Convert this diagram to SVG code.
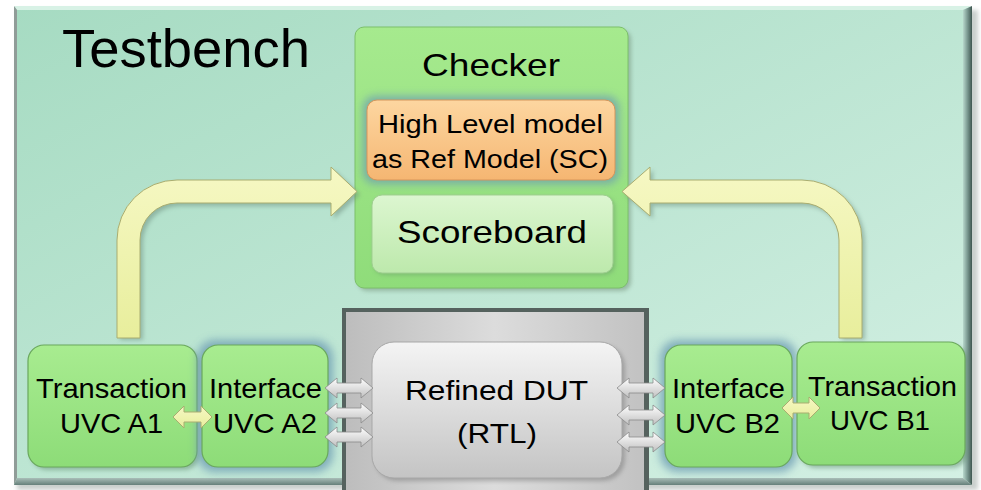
<svg xmlns="http://www.w3.org/2000/svg" width="981" height="490" viewBox="0 0 981 490">
<defs>
<style>
.t{font-family:"Liberation Sans",Arial,sans-serif;fill:#000;text-anchor:middle}
.uvc{fill:url(#gUvc);stroke:#6aa85c;stroke-width:1.2}
.ya{fill:url(#gYel);stroke:#a9ad70;stroke-width:1}
.ga{fill:url(#gGa);stroke:#8a8a8a;stroke-width:0.8}
</style>
<linearGradient id="gBg" x1="0" y1="0" x2="1" y2="1">
<stop offset="0" stop-color="#a6dbc2"/><stop offset="1" stop-color="#d4f0e4"/>
</linearGradient>
<linearGradient id="gR" x1="0" y1="0" x2="1" y2="0">
<stop offset="0" stop-color="#b8d8cc"/><stop offset="0.5" stop-color="#7a9890"/><stop offset="1" stop-color="#3e5650"/>
</linearGradient>
<linearGradient id="gB" x1="0" y1="0" x2="0" y2="1">
<stop offset="0" stop-color="#a9beb8"/><stop offset="1" stop-color="#66807a"/>
</linearGradient>
<linearGradient id="gChk" x1="0" y1="0" x2="0" y2="1">
<stop offset="0" stop-color="#a6ea8e"/><stop offset="1" stop-color="#8fdc7a"/>
</linearGradient>
<linearGradient id="gUvc" x1="0" y1="0" x2="0" y2="1">
<stop offset="0" stop-color="#a8ec90"/><stop offset="1" stop-color="#8ddc78"/>
</linearGradient>
<linearGradient id="gOr" x1="0" y1="0" x2="0" y2="1">
<stop offset="0" stop-color="#fdd6a0"/><stop offset="1" stop-color="#f5b672"/>
</linearGradient>
<linearGradient id="gSb" x1="0" y1="0" x2="0" y2="1">
<stop offset="0" stop-color="#dcf6d0"/><stop offset="1" stop-color="#bde9ac"/>
</linearGradient>
<linearGradient id="gDut" x1="0" y1="0" x2="0" y2="1">
<stop offset="0" stop-color="#f4f4f4"/><stop offset="1" stop-color="#c4c4c4"/>
</linearGradient>
<linearGradient id="gGray" x1="0" y1="0" x2="1" y2="0">
<stop offset="0" stop-color="#bdbdbd"/><stop offset="0.5" stop-color="#dcdcdc"/><stop offset="1" stop-color="#c2c2c2"/>
</linearGradient>
<linearGradient id="gYel" x1="0" y1="0" x2="0" y2="1">
<stop offset="0" stop-color="#f6f8c4"/><stop offset="1" stop-color="#e8ee9c"/>
</linearGradient>
<linearGradient id="gGa" x1="0" y1="0" x2="0" y2="1">
<stop offset="0" stop-color="#ffffff"/><stop offset="1" stop-color="#c0c0c0"/>
</linearGradient>
<filter id="glow" x="-20%" y="-20%" width="140%" height="140%"><feGaussianBlur stdDeviation="4"/></filter>
<filter id="sh" x="-10%" y="-10%" width="130%" height="130%"><feGaussianBlur stdDeviation="2"/></filter>
<path id="dblG" d="M0,0 L12,-10 L12,-5 L36,-5 L36,-10 L48,0 L36,10 L36,5 L12,5 L12,10 Z"/>
</defs>

<!-- Testbench frame -->
<g id="testbench">
<rect x="17" y="10" width="961" height="480" fill="#8a9892" opacity="0.45" filter="url(#sh)"/>
<rect x="14" y="7" width="958" height="478" fill="url(#gBg)"/>
<polygon points="14,6 972,6 963,10 17,10" fill="#d8f2e6"/>
<polygon points="14,6 17,10 17,478 14,485" fill="#909c98"/>
<polygon points="972,6 972,485 963,478 963,10" fill="url(#gR)"/>
<polygon points="14,485 972,485 963,478 17,478" fill="url(#gB)"/>
<text class="t" x="186" y="67" font-size="53" textLength="248" lengthAdjust="spacingAndGlyphs">Testbench</text>
</g>

<!-- DUT area -->
<g id="dut-area">
<rect x="342" y="308" width="307" height="184" fill="#55625e"/>
<rect x="346" y="312" width="298" height="180" fill="url(#gGray)"/>
</g>

<!-- Checker -->
<g id="checker">
<rect x="358" y="30" width="273" height="261" rx="9" fill="#7a9a82" opacity="0.6" filter="url(#sh)"/>
<rect x="355" y="27" width="273" height="261" rx="9" fill="url(#gChk)" stroke="#7cc06a" stroke-width="1"/>
<text class="t" x="491" y="76" font-size="32" textLength="138" lengthAdjust="spacingAndGlyphs">Checker</text>
</g>

<g id="ref-model">
<rect x="363" y="96" width="256" height="88" rx="12" fill="#6f9fb0" opacity="0.8" filter="url(#glow)"/>
<rect x="367" y="100" width="248" height="80" rx="10" fill="url(#gOr)" stroke="#d6965a" stroke-width="1"/>
<text class="t" x="490.5" y="133" font-size="25" textLength="225" lengthAdjust="spacingAndGlyphs">High Level model</text>
<text class="t" x="490" y="168" font-size="25" textLength="236" lengthAdjust="spacingAndGlyphs">as Ref Model (SC)</text>
</g>

<g id="scoreboard">
<rect x="374" y="197" width="241" height="78" rx="10" fill="#6a9a6a" opacity="0.5" filter="url(#sh)"/>
<rect x="372" y="195" width="241" height="78" rx="10" fill="url(#gSb)" stroke="#9fcf90" stroke-width="1"/>
<text class="t" x="492" y="243" font-size="32" textLength="190" lengthAdjust="spacingAndGlyphs">Scoreboard</text>
</g>

<!-- DUT -->
<g id="dut">
<rect x="375" y="345" width="250" height="136" rx="22" fill="#777" opacity="0.5" filter="url(#sh)"/>
<rect x="372" y="342" width="250" height="136" rx="22" fill="url(#gDut)" stroke="#a8a8a8" stroke-width="1"/>
<text class="t" x="496.5" y="400" font-size="28" textLength="183" lengthAdjust="spacingAndGlyphs">Refined DUT</text>
<text class="t" x="497" y="443" font-size="28" textLength="80" lengthAdjust="spacingAndGlyphs">(RTL)</text>
</g>

<!-- UVCs -->
<g id="uvc-a1">
<rect x="31" y="348" width="169" height="122" rx="16" fill="#5c8a6a" opacity="0.5" filter="url(#sh)"/>
<rect x="28" y="345" width="169" height="122" rx="16" class="uvc"/>
<text class="t" x="111.5" y="398" font-size="28" textLength="151" lengthAdjust="spacingAndGlyphs">Transaction</text>
<text class="t" x="111.5" y="433" font-size="28" textLength="103" lengthAdjust="spacingAndGlyphs">UVC A1</text>
</g>
<g id="uvc-a2">
<rect x="197" y="340" width="136" height="132" rx="18" fill="#6f9fb4" opacity="0.8" filter="url(#glow)"/>
<rect x="202" y="345" width="126" height="122" rx="16" class="uvc"/>
<text class="t" x="265.5" y="398" font-size="28" textLength="113" lengthAdjust="spacingAndGlyphs">Interface</text>
<text class="t" x="265" y="433" font-size="28" textLength="104" lengthAdjust="spacingAndGlyphs">UVC A2</text>
</g>
<g id="uvc-b2">
<rect x="660" y="340" width="137" height="132" rx="18" fill="#6f9fb4" opacity="0.8" filter="url(#glow)"/>
<rect x="665" y="345" width="127" height="122" rx="16" class="uvc"/>
<text class="t" x="728.5" y="398" font-size="28" textLength="113" lengthAdjust="spacingAndGlyphs">Interface</text>
<text class="t" x="727.5" y="433" font-size="28" textLength="105" lengthAdjust="spacingAndGlyphs">UVC B2</text>
</g>
<g id="uvc-b1">
<rect x="800" y="345" width="168" height="123" rx="16" fill="#5c8a6a" opacity="0.5" filter="url(#sh)"/>
<rect x="797" y="342" width="168" height="123" rx="16" class="uvc"/>
<text class="t" x="882.5" y="396" font-size="28" textLength="149" lengthAdjust="spacingAndGlyphs">Transaction</text>
<text class="t" x="880" y="430" font-size="28" textLength="100" lengthAdjust="spacingAndGlyphs">UVC B1</text>
</g>

<!-- Connectors -->
<g id="connectors">
<path d="M120,340 L120,243 A60,60 0 0 1 180,183 L334,183 L334,170 L360,194.5 L334,219 L334,206 L180,206 A37,37 0 0 0 143,243 L143,340 Z" fill="#6a8a7a" opacity="0.5" filter="url(#sh)"/>
<path d="M865,340 L865,243 A60,60 0 0 0 805,183 L653,183 L653,170 L625,194.5 L653,219 L653,206 L805,206 A37,37 0 0 1 842,243 L842,340 Z" fill="#6a8a7a" opacity="0.5" filter="url(#sh)"/>
<path class="ya" d="M117,338 L117,240 A60,60 0 0 1 177,180 L331,180 L331,167 L357,191.5 L331,216 L331,203 L177,203 A37,37 0 0 0 140,240 L140,338 Z"/>
<path class="ya" d="M862,338 L862,240 A60,60 0 0 0 802,180 L650,180 L650,167 L622,191.5 L650,216 L650,203 L802,203 A37,37 0 0 1 839,240 L839,338 Z"/>
<path class="ya" d="M173,417 L184,406 L184,412 L201,412 L201,406 L212,417 L201,428 L201,422 L184,422 L184,428 Z"/>
<path class="ya" d="M782,408 L793,397 L793,403 L809,403 L809,397 L820,408 L809,419 L809,413 L793,413 L793,419 Z"/>
<use href="#dblG" class="ga" x="325" y="388"/>
<use href="#dblG" class="ga" x="325" y="413"/>
<use href="#dblG" class="ga" x="325" y="437"/>
<use href="#dblG" class="ga" x="617" y="388"/>
<use href="#dblG" class="ga" x="617" y="415"/>
<use href="#dblG" class="ga" x="617" y="442"/>
</g>
</svg>
